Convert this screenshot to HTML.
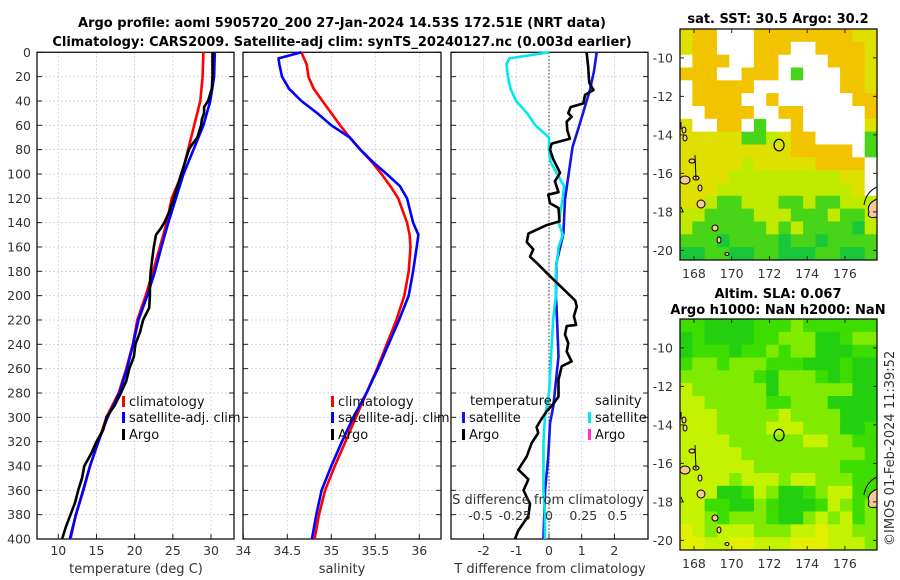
<!DOCTYPE html>
<html><head><meta charset="utf-8"><style>
html,body{margin:0;padding:0;background:#fff;}
svg{display:block;font-family:"DejaVu Sans","Liberation Sans",sans-serif;}
.tk{font-size:12.5px;fill:#333;}
.tt{font-size:13px;font-weight:bold;fill:#000;}
.lg{font-size:13px;fill:#111;}
</style></head><body>
<svg id="fig" width="900" height="580" viewBox="0 0 900 580">
<text class="tt" x="342" y="27" text-anchor="middle">Argo profile: aoml 5905720_200 27-Jan-2024 14.53S 172.51E (NRT data)</text>
<text class="tt" x="342" y="46" text-anchor="middle">Climatology: CARS2009. Satellite-adj clim: synTS_20240127.nc (0.003d earlier)</text>
<text class="tt" x="778" y="23" text-anchor="middle">sat. SST: 30.5 Argo: 30.2</text>
<text class="tt" x="778" y="298" text-anchor="middle">Altim. SLA: 0.067</text>
<text class="tt" x="778" y="314" text-anchor="middle">Argo h1000: NaN h2000: NaN</text>
<text class="tk" transform="translate(894,546) rotate(-90)" style="font-size:13px">©IMOS 01-Feb-2024 11:39:52</text>
<g id="g1"></g><g id="g2"></g><g id="g3"></g><g id="m1"></g><g id="m2"></g>
</svg>
<script>
// ---- profile data ----
const depthT = [0,20,40,60,80,100,120,140,160,180,200,220,240,260,280,300,320,340,360,380,400];
const climT = [29.0,28.9,28.6,27.8,27.0,26.2,24.85,24.2,23.3,22.4,21.45,20.35,19.75,18.9,17.9,16.3,15.25,14.15,13.3,12.3,11.6];
const satT = [30.5,30.4,29.9,29.0,27.7,26.4,25.4,24.4,23.5,22.66,21.66,20.5,19.8,19.0,18.0,16.45,15.25,14.15,13.25,12.3,11.5];
const argoDepth = [0,20,30,40,45,50,55,60,70,75,80,90,100,110,120,130,140,145,150,160,170,180,190,200,210,220,230,240,250,260,270,280,290,300,310,320,330,340,350,360,370,380,390,400];
const argoT = [30.2,30.2,30.1,29.6,29.1,29.1,28.8,28.7,28.2,27.6,27.1,26.6,26.1,25.6,25.1,24.6,23.9,23.4,22.8,22.5,22.3,22.1,22.0,22.0,21.9,21.1,20.7,20.1,19.9,19.3,18.9,18.2,17.4,16.3,15.9,15.0,14.3,13.4,13.1,12.6,12.2,11.6,11.0,10.5];
const depthS = [0,5,10,20,30,40,50,60,70,80,90,100,110,120,140,150,160,180,200,220,240,260,280,300,320,340,360,380,400];
const climS = [34.66,34.69,34.72,34.74,34.8,34.9,35.0,35.1,35.21,35.33,35.46,35.57,35.67,35.76,35.86,35.89,35.9,35.88,35.83,35.74,35.63,35.52,35.40,35.28,35.16,35.04,34.93,34.86,34.81];
const satS = [34.66,34.40,34.41,34.44,34.52,34.66,34.84,35.0,35.21,35.33,35.47,35.63,35.78,35.86,35.93,35.99,35.97,35.93,35.88,35.77,35.65,35.53,35.40,35.25,35.12,35.0,34.89,34.83,34.78];
const diffDepth = [0,15,31,58,78,102,121,149,173,202,209,250,291,305,332,360,400];
const satTdiff = [1.46,1.38,1.25,0.95,0.72,0.59,0.49,0.44,0.23,0.21,0.23,0.29,0.13,0.03,-0.02,-0.12,-0.17];
const argoDiffDepth = [0,12,25,31,35,42,45,50,53,57,64,71,75,80,88,99,106,115,117,124,128,139,142,149,156,162,168,173,184,204,209,217,224,225,232,239,246,254,258,269,283,289,295,301,308,313,321,332,343,351,360,371,381,393,400];
const argoTdiff = [1.15,1.2,1.23,1.36,1.1,1.05,0.66,0.59,0.69,0.54,0.56,0.64,0.08,0.03,0.13,0.34,0.18,0.29,-0.02,0.03,0.29,0.32,-0.07,-0.63,-0.68,-0.48,-0.58,-0.38,0.03,0.8,0.85,0.76,0.83,0.54,0.49,0.59,0.54,0.69,0.39,0.29,0.29,0.13,-0.07,-0.22,-0.38,-0.33,-0.53,-0.68,-0.94,-0.63,-0.78,-0.58,-0.63,-0.94,-1.04];
const depthTicks = [0,20,40,60,80,100,120,140,160,180,200,220,240,260,280,300,320,340,360,380,400];
const tTicks = [10,15,20,25,30];
const sTicks = [34,34.5,35,35.5,36];
const sTickLabels = ["34","34.5","35","35.5","36"];
const dTTicks = [-2,-1,0,1,2];
const dSTicks = [-0.5,-0.25,0,0.25,0.5];
const dSTickLabels = ["-0.5","-0.25","0","0.25","0.5"];
const latTicks = [-10,-12,-14,-16,-18,-20];
const lonTicks = [168,170,172,174,176];
// SST map codes: w=no data, o=orange, y=yellow, l=yellow-green, g=green, G=dark green
const sstRows = ["yoowwwooooooooyy","yoowwwooowwooooy","wooowwoowwwwoooy","ooowwooowgwwwooy","wooooowwwwwwwooy","woooowwowwwwwwoo","wwoooowwoowwwwwo","ywwoowgwwowwwwwy","yyyyygglyoowwwwg","yyyyyyyyyooooowg","yyyyylyyyyyoooow","yyyylllllllllyyw","yyylllllllllllyw","yylgglllgglgglll","llgggglllggglggl","lgggggglglggggGl","gggGggggGggGgggg","GGggGGggGGGggGGg"];
// SLA map codes: G dark green, g green, l light green, y yellow-green, Y yellow
const slaRows = ["ggGGGGggglgggggg","GgGGGGgglllGGgll","GgggGgglgllGGGgg","gllglllgggGGGgGG","llllllgGlllgGgGG","yllllllGllllllGG","yylllllgglllGGGG","yyylllllyllllGGG","yyyllllyyylllGGg","yyyyllllllyyllgg","yyyyyllllllllllg","yyyyyylllllllggg","yyyylyyylyylllgg","yyyGGgylGGglyygg","yyggGGlgGGGgylgl","yylglllgGGlylygl","YylyyylllyyYyyll","YYyyYYyyyYYYyyyl"];

const NS="http://www.w3.org/2000/svg";
function mk(p,tag,at,txt){const e=document.createElementNS(NS,tag);for(const k in at)e.setAttribute(k,at[k]);if(txt!==undefined)e.textContent=txt;p.appendChild(e);return e;}
const Y0=52.3,Y1=539;
const yD=d=>Y0+d*(Y1-Y0)/400;
const xT=t=>58.3+(t-10)*7.636;
const xS=s=>243.3+(s-34)*88;
const xDT=v=>549+v*32.7;
const xDS=v=>549+v*137;

function frame(g,x0,x1,xticks,xf,labels,name){
  for(const d of depthTicks){const l=mk(g,'line',{x1:x0,x2:x1,y1:yD(d),y2:yD(d),stroke:'#c4c8e6','stroke-width':0.8,'stroke-dasharray':'2,2'});
    
    
    mk(g,'line',{x1:x0,x2:x0+5,y1:yD(d),y2:yD(d),stroke:'#222'});
    mk(g,'line',{x1:x1-5,x2:x1,y1:yD(d),y2:yD(d),stroke:'#222'});}
  xticks.forEach((t,i)=>{const x=xf(t);
    const l=mk(g,'line',{x1:x,x2:x,y1:Y0,y2:Y1,stroke:'#c4c8e6','stroke-width':0.8,'stroke-dasharray':'2,2'});
    
    
    mk(g,'line',{x1:x,x2:x,y1:Y1,y2:Y1-5,stroke:'#222'});
    const tx=mk(g,'text',{x:x,y:555,'text-anchor':'middle',class:'tk'},labels?labels[i]:String(t));
    
    });
  const r=mk(g,'rect',{x:x0,y:Y0,width:x1-x0,height:Y1-Y0,fill:'none',stroke:'#111','stroke-width':1.3});
  
  
}
function line(g,xs,ds,xf,color,name,w){
  const pts=xs.map((v,i)=>xf(v).toFixed(1)+','+yD(ds[i]).toFixed(1)).join(' ');
  const p=mk(g,'polyline',{points:pts,fill:'none',stroke:color,'stroke-width':w||2.6,'stroke-linejoin':'round'});
  
  
}
function legend(g,x,y,color,label){
  mk(g,'rect',{x:x,y:y-10,width:3,height:11,fill:color});
  const t=mk(g,'text',{x:x+7,y:y,class:'lg'},label);
  
  
}
// panel 1
const g1=document.getElementById('g1');
frame(g1,37,234,tTicks,xT,null,'temperature-axes');
depthTicks.forEach(d=>{const t=mk(g1,'text',{x:31,y:yD(d)+4.5,'text-anchor':'end',class:'tk'},String(d));
  
  });
line(g1,climT,depthT,xT,'#ff0000','climatology-temperature-line');
line(g1,satT,depthT,xT,'#0000ff','satellite-temperature-line');
line(g1,argoT,argoDepth,xT,'#000','argo-temperature-line');
legend(g1,122,406,'#ff0000','climatology');
legend(g1,122,422,'#0000ff','satellite-adj. clim');
legend(g1,122,439,'#000','Argo');
let t=mk(g1,'text',{x:136,y:573,'text-anchor':'middle',class:'tk',style:'font-size:13px'},'temperature (deg C)');


// panel 2
const g2=document.getElementById('g2');
frame(g2,243,441,sTicks,xS,sTickLabels,'salinity-axes');
line(g2,climS,depthS,xS,'#ff0000','climatology-salinity-line');
line(g2,satS,depthS,xS,'#0000ff','satellite-salinity-line');
legend(g2,331,406,'#ff0000','climatology');
legend(g2,331,422,'#0000ff','satellite-adj. clim');
legend(g2,331,439,'#000','Argo');
t=mk(g2,'text',{x:342,y:573,'text-anchor':'middle',class:'tk',style:'font-size:13px'},'salinity');


// panel 3
const g3=document.getElementById('g3');
frame(g3,451,648,dTTicks,xDT,null,'difference-axes');
mk(g3,'line',{x1:549,x2:549,y1:Y0,y2:Y1,stroke:'#333','stroke-width':1,'stroke-dasharray':'1.5,2'});
line(g3,satTdiff,diffDepth,xDT,'#1414e6','satellite-temperature-diff-line');
line(g3,satS.map((v,i)=>v-climS[i]),depthS,xDS,'#00e8ee','satellite-salinity-diff-line');
line(g3,argoTdiff,argoDiffDepth,xDT,'#000','argo-temperature-diff-line');
t=mk(g3,'text',{x:470,y:405,class:'lg'},'temperature');


t=mk(g3,'text',{x:595,y:405,class:'lg'},'salinity');


legend(g3,462,422,'#1414e6','satellite');
legend(g3,462,439,'#000','Argo');
legend(g3,588,422,'#00e8ee','satellite');
legend(g3,588,439,'#ff33cc','Argo');
t=mk(g3,'text',{x:548,y:504,'text-anchor':'middle',class:'tk',style:'font-size:13px'},'S difference from climatology');


dSTicks.forEach((v,i)=>{const e=mk(g3,'text',{x:xDS(v),y:520,'text-anchor':'middle',class:'tk'},dSTickLabels[i]);
  
  });
t=mk(g3,'text',{x:550,y:573,'text-anchor':'middle',class:'tk',style:'font-size:13px'},'T difference from climatology');



// ---- maps ----
const MX0=680,MX1=877,lonA=167.26,lonB=177.7,latA=-8.5,latB=-20.5;
const sstCol={w:'#ffffff',o:'#f2c400',y:'#dfe000',l:'#c0ea00',g:'#48d418',G:'#18c838'};
const slaCol={G:'#22d010',g:'#3ddd00',l:'#80ea00',y:'#c4f200',Y:'#e2f000'};
function map(gid,top,rows,cols,name){
  const g=document.getElementById(gid);
  const bot=top+231;
  const lx=lon=>MX0+(lon-lonA)*(MX1-MX0)/(lonB-lonA);
  const ly=lat=>top+(lat-latA)*(bot-top)/(latB-latA);
  const nr=rows.length,nc=rows[0].length,cw=(MX1-MX0)/nc,ch=(bot-top)/nr;
  rows.forEach((r,i)=>{for(let j=0;j<nc;j++){
    const c=mk(g,'rect',{x:(MX0+j*cw).toFixed(2),y:(top+i*ch).toFixed(2),width:(cw+0.5).toFixed(2),height:(ch+0.5).toFixed(2),fill:cols[r[j]]});
    
    }});
  const isl=[[684,101,2,3],[685,109,2,3],[692,132,3,2],[685,151,5,4],[696,149,3,2],[700,159,2,3],[701,175,4,4],[715,199,3,3],[719,211,2,3],[727,225,2,1.5]];
  isl.forEach(a=>{const e=mk(g,'ellipse',{cx:a[0],cy:top+a[1],rx:a[2],ry:a[3],fill:'#f8c898',stroke:'#000','stroke-width':1});
    
    });
  mk(g,'path',{d:`M681 ${top+93} L681 ${top+100} M695 ${top+126} L696 ${top+150} M681 ${top+178} L683 ${top+183}`,stroke:'#000','stroke-width':1,fill:'none'});
  const ri=mk(g,'path',{d:`M877 ${top+170} Q866 ${top+175} 869 ${top+183} Q866 ${top+190} 877 ${top+188} Z`,fill:'#f8c898',stroke:'#000','stroke-width':1});
  
  
  mk(g,'path',{d:`M877 ${top+158} Q866 ${top+163} 864 ${top+176}`,stroke:'#000','stroke-width':1,fill:'none'});
  const c=mk(g,'ellipse',{cx:lx(172.51),cy:ly(-14.53),rx:5,ry:5.8,fill:'none',stroke:'#000','stroke-width':1.2});
  
  
  const f=mk(g,'rect',{x:MX0,y:top,width:MX1-MX0,height:bot-top,fill:'none',stroke:'#111','stroke-width':1.3});
  
  
  latTicks.forEach(v=>{const y=ly(v);
    mk(g,'line',{x1:MX0,x2:MX0+4,y1:y,y2:y,stroke:'#222'});
    mk(g,'line',{x1:MX1-4,x2:MX1,y1:y,y2:y,stroke:'#222'});
    const e=mk(g,'text',{x:673,y:y+4.5,'text-anchor':'end',class:'tk'},String(v));
    
    });
  lonTicks.forEach(v=>{const x=lx(v);
    mk(g,'line',{x1:x,x2:x,y1:bot,y2:bot-4,stroke:'#222'});
    mk(g,'line',{x1:x,x2:x,y1:top,y2:top+4,stroke:'#222'});
    const e=mk(g,'text',{x:x,y:bot+18,'text-anchor':'middle',class:'tk'},String(v));
    
    });
}
map('m1',29,sstRows,sstCol,'sst-map');
map('m2',319,slaRows,slaCol,'sla-map');
</script>
</body></html>
